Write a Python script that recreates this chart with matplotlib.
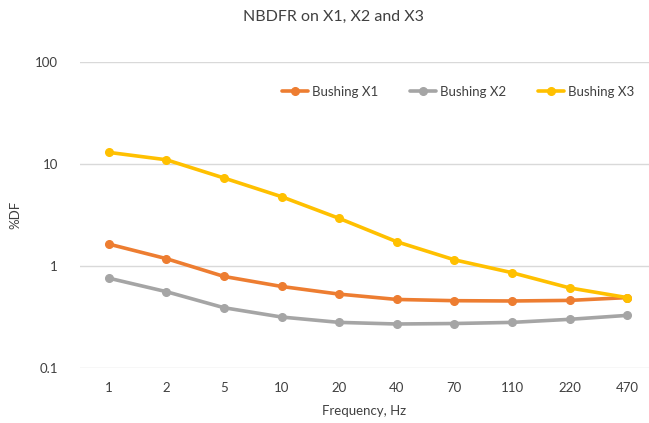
import matplotlib
matplotlib.use("Agg")
import matplotlib.pyplot as plt
from matplotlib.ticker import FixedLocator, FixedFormatter, NullLocator

plt.rcParams['font.family'] = ['Lato', 'DejaVu Sans']

frequencies = ["1", "2", "5", "10", "20", "40", "70", "110", "220", "470"]
bushing_x1 = [1.64, 1.18, 0.79, 0.63, 0.53, 0.47, 0.457, 0.454, 0.46, 0.49]
bushing_x2 = [0.76, 0.56, 0.39, 0.316, 0.28, 0.27, 0.273, 0.28, 0.30, 0.328]
bushing_x3 = [13.0, 11.0, 7.29, 4.78, 2.93, 1.73, 1.15, 0.86, 0.61, 0.49]
series = [("Bushing X1", bushing_x1, "#ED7D31"),
          ("Bushing X2", bushing_x2, "#A5A5A5"),
          ("Bushing X3", bushing_x3, "#FFC000")]
y_ticks = [0.1, 1, 10, 100]
y_tick_labels = ["0.1", "1", "10", "100"]

fig = plt.figure(figsize=(6.49, 4.23), dpi=100)
ax = fig.add_axes([80 / 649, 1 - 368 / 423, 569 / 649, (368 - 62) / 423])

x = list(range(len(frequencies)))
for name, vals, color in series:
    ax.plot(x, vals, color=color, lw=2.6, marker="o", markersize=5.5,
            label=name, solid_capstyle="round", zorder=3)

ax.set_yscale("log")
ax.set_ylim(0.1, 100)
ax.yaxis.set_major_locator(FixedLocator(y_ticks))
ax.yaxis.set_major_formatter(FixedFormatter(y_tick_labels))
ax.yaxis.set_minor_locator(NullLocator())
ax.set_xlim(-0.5, 9.38)
ax.set_xticks(x)
ax.set_xticklabels(frequencies)

ax.grid(axis="y", color="#D9D9D9", lw=1)
ax.set_axisbelow(True)
for s in ax.spines.values():
    s.set_visible(False)
ax.tick_params(axis="both", length=0, labelsize=9.5, colors="#404040")
ax.tick_params(axis="y", pad=16)
ax.tick_params(axis="x", pad=10)

ax.set_xlabel("Frequency, Hz", fontsize=9.5, color="#404040", labelpad=8)
ax.set_ylabel("%DF", fontsize=9.5, color="#404040", labelpad=10)

fig.text(333 / 649, 1 - 17 / 423, "NBDFR on X1, X2 and X3", ha="center",
         va="center", fontsize=11.5, color="#404040")

leg = ax.legend(loc="center", bbox_to_anchor=(458 / 649, 1 - 92 / 423),
                bbox_transform=fig.transFigure, ncol=3, frameon=False,
                fontsize=9.5, handlelength=2.0, handletextpad=0.3,
                columnspacing=2.4, labelcolor="#404040")

fig.savefig("out.png", dpi=100)
